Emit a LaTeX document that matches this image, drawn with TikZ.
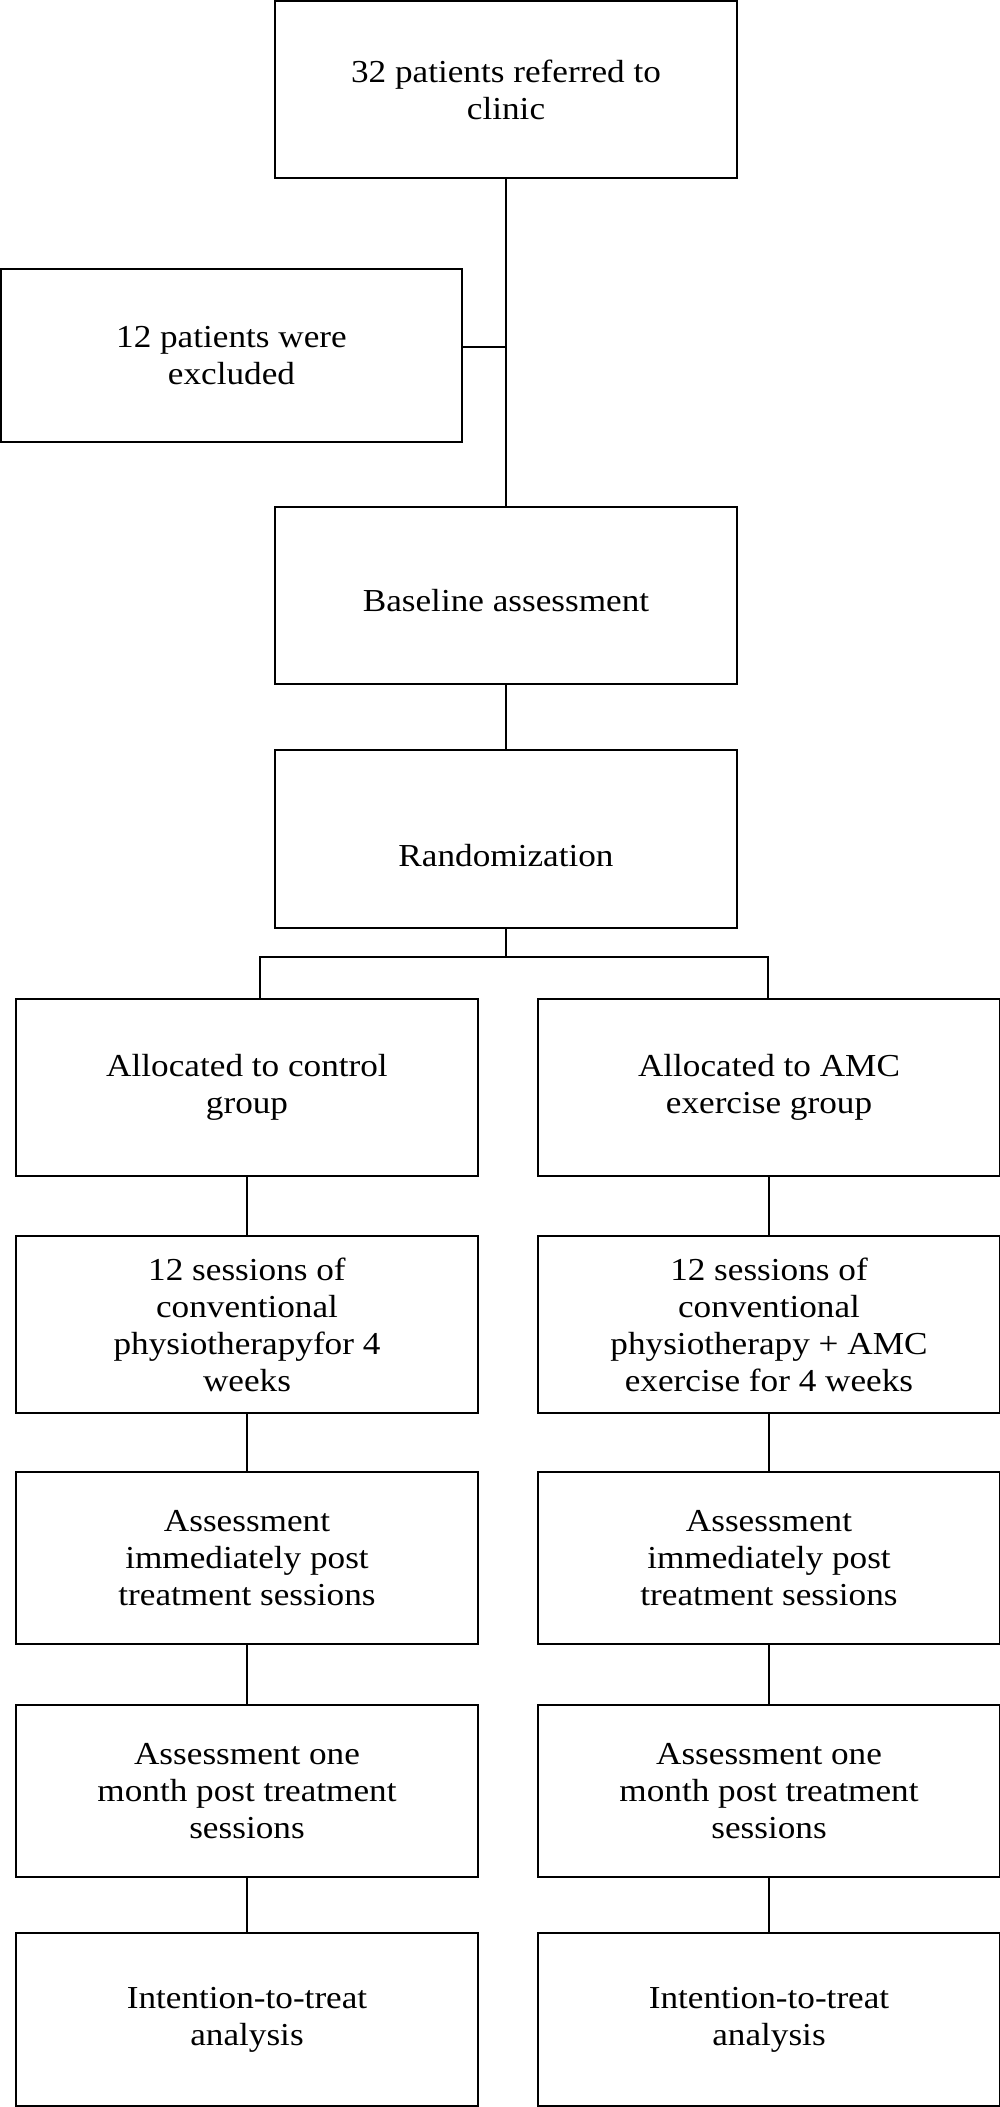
\documentclass[tikz,border=0pt]{standalone}
\usepackage{fontspec}
\setmainfont{Liberation Serif}[FakeStretch=1.1]
\begin{document}
\begin{tikzpicture}[x=0.5pt,y=-0.5pt,
  box/.style={draw=black,line width=0.9pt,rectangle,inner sep=0pt,minimum width=231pt,align=center,
    font=\fontsize{16pt}{18.5pt}\selectfont},
  link/.style={draw=black,line width=0.7pt}]
\useasboundingbox (0,0) rectangle (1000,2107);
\node[box,minimum height=88.5pt] (top) at (506,89.5) {32 patients referred to\\clinic};
\node[box,minimum width=230.5pt,minimum height=86.5pt] (excl) at (231.5,355.5) {12 patients were\\excluded};
\node[box,minimum height=88.5pt] (base) at (506,595.5) {\raisebox{-8.2pt}[0pt][0pt]{Baseline assessment}};
\node[box,minimum height=89pt] (rand) at (506,839) {\raisebox{-13.5pt}[0pt][0pt]{Randomization}};
\node[box,minimum height=88.5pt] (allocL) at (247,1087.5) {Allocated to control\\group};
\node[box,minimum height=88.5pt] (allocR) at (769,1087.5) {Allocated to AMC\\exercise group};
\node[box,minimum height=88.5pt] (sessL) at (247,1324.5) {12 sessions of\\conventional\\physiotherapyfor 4\\weeks};
\node[box,minimum height=88.5pt] (sessR) at (769,1324.5) {12 sessions of\\conventional\\physiotherapy + AMC\\exercise for 4 weeks};
\node[box,minimum height=86pt] (immL) at (247,1558) {Assessment\\immediately post\\treatment sessions};
\node[box,minimum height=86pt] (immR) at (769,1558) {Assessment\\immediately post\\treatment sessions};
\node[box,minimum height=86pt] (monL) at (247,1791) {Assessment one\\month post treatment\\sessions};
\node[box,minimum height=86pt] (monR) at (769,1791) {Assessment one\\month post treatment\\sessions};
\node[box,minimum height=86.5pt] (ittL) at (247,2019.5) {Intention-to-treat\\analysis};
\node[box,minimum height=86.5pt] (ittR) at (769,2019.5) {Intention-to-treat\\analysis};
\coordinate (ex) at (462,347);
\coordinate (bm) at (506,957);
\coordinate (bl) at (260,957);
\coordinate (br) at (768,957);
\draw[link] (top.south) -- (base.north);
\draw[link,line width=0.9pt] (ex) -- (ex -| top.south);
\draw[link] (base.south) -- (rand.north);
\draw[link] (rand.south) -- (bm);
\draw[link] (bl |- allocL.north) -- (bl) -- (br) -- (br |- allocR.north);
\draw[link] (allocL.south) -- (sessL.north);
\draw[link] (allocR.south) -- (sessR.north);
\draw[link] (sessL.south) -- (immL.north);
\draw[link] (sessR.south) -- (immR.north);
\draw[link] (immL.south) -- (monL.north);
\draw[link] (immR.south) -- (monR.north);
\draw[link] (monL.south) -- (ittL.north);
\draw[link] (monR.south) -- (ittR.north);
\end{tikzpicture}
\end{document}
